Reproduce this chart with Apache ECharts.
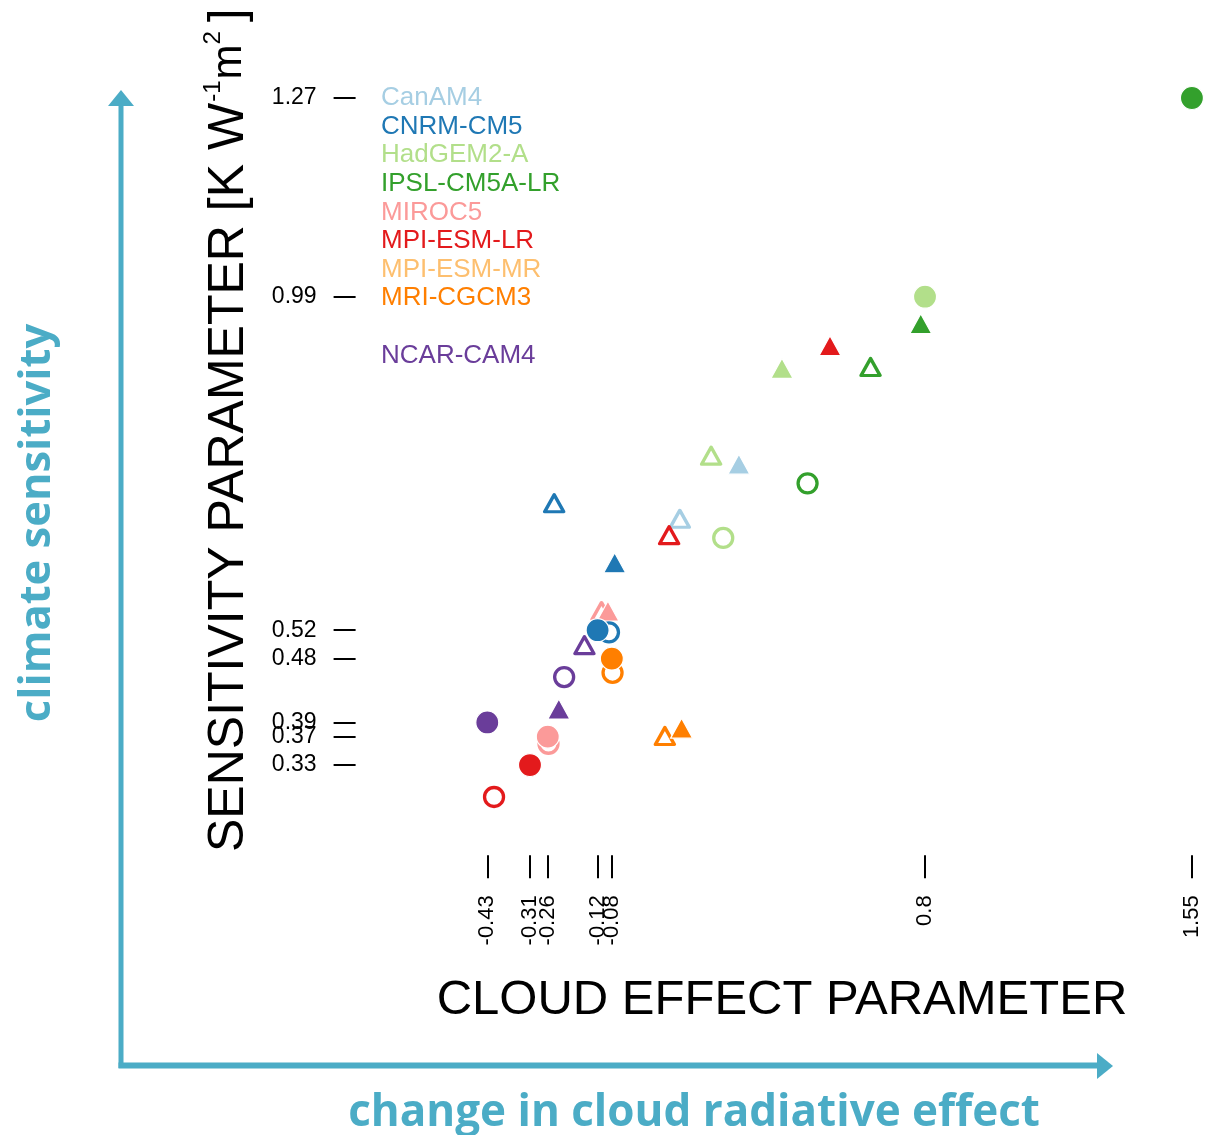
<!DOCTYPE html>
<html>
<head>
<meta charset="utf-8">
<script src="https://cdn.jsdelivr.net/npm/echarts@6/dist/echarts.min.js"></script>
<style>
  html, body { margin: 0; padding: 0; background: #fff; }
  #chart { width: 1206px; height: 1135px; }
</style>
</head>
<body>
<div id="chart"></div>
<script>
const models = ['CanAM4', 'CNRM-CM5', 'HadGEM2-A', 'IPSL-CM5A-LR', 'MIROC5', 'MPI-ESM-LR', 'MPI-ESM-MR', 'MRI-CGCM3', 'NCAR-CAM4'];
const modelColors = ['#a6cee3', '#1f78b4', '#b2df8a', '#33a02c', '#fb9a99', '#e31a1c', '#fdbf6f', '#ff7f00', '#6a3d9a'];

// [model, cloud effect parameter, sensitivity parameter]
const filledCircles = [
  ['CNRM-CM5', -0.12, 0.52],
  ['HadGEM2-A', 0.8, 0.99],
  ['IPSL-CM5A-LR', 1.55, 1.27],
  ['MIROC5', -0.26, 0.37],
  ['MPI-ESM-LR', -0.31, 0.33],
  ['MRI-CGCM3', -0.08, 0.48],
  ['NCAR-CAM4', -0.43, 0.39]
];
const openCircles = [
  ['CNRM-CM5', -0.088, 0.517],
  ['HadGEM2-A', 0.233, 0.650],
  ['IPSL-CM5A-LR', 0.470, 0.727],
  ['MIROC5', -0.258, 0.360],
  ['MPI-ESM-LR', -0.411, 0.285],
  ['MRI-CGCM3', -0.078, 0.460],
  ['NCAR-CAM4', -0.214, 0.454]
];
const filledTriangles = [
  ['CanAM4', 0.277, 0.754],
  ['CNRM-CM5', -0.072, 0.615],
  ['HadGEM2-A', 0.398, 0.889],
  ['IPSL-CM5A-LR', 0.788, 0.952],
  ['MIROC5', -0.091, 0.547],
  ['MPI-ESM-LR', 0.533, 0.921],
  ['MRI-CGCM3', 0.116, 0.382],
  ['NCAR-CAM4', -0.229, 0.409]
];
const openTriangles = [
  ['CanAM4', 0.111, 0.677],
  ['CNRM-CM5', -0.242, 0.699],
  ['HadGEM2-A', 0.199, 0.766],
  ['IPSL-CM5A-LR', 0.647, 0.891],
  ['MIROC5', -0.109, 0.547],
  ['MPI-ESM-LR', 0.081, 0.654],
  ['MRI-CGCM3', 0.069, 0.371],
  ['NCAR-CAM4', -0.157, 0.499]
];
const xTicks = [-0.43, -0.31, -0.26, -0.12, -0.08, 0.8, 1.55];
const yTicks = [1.27, 0.99, 0.52, 0.48, 0.39, 0.37, 0.33];

const TEAL = '#4bacc6';
const FONT = '"Liberation Sans", Arial, Helvetica, sans-serif';
const BOLD_FAMILY = '"Open Sans", Lato, sans-serif';

function colorOf(name) {
  return modelColors[models.indexOf(name)];
}

function markerSeries(rows, symbol, size, filled) {
  return {
    type: 'scatter',
    symbol: symbol,
    symbolSize: size,
    emphasis: { disabled: true },
    silent: true,
    data: rows.map(r => ({
      name: r[0],
      value: [r[1], r[2]],
      itemStyle: filled
        ? { color: colorOf(r[0]), opacity: 1, borderColor: '#fff', borderWidth: 1.2 }
        : { color: 'rgba(255,255,255,0)', opacity: 1, borderColor: colorOf(r[0]), borderWidth: 3.3, borderJoin: 'round' }
    }))
  };
}

let measureCtx = document.createElement('canvas').getContext('2d');
function textWidth(str, size) {
  measureCtx.font = size + 'px ' + FONT;
  return measureCtx.measureText(str).width;
}

// y axis title with superscripts, laid out along the rotated baseline
let yMain = 'SENSITIVITY PARAMETER [K W';
let yBig = 50, yUnit = 42, ySup = 24, supShift = -16;
let p1 = textWidth(yMain, yBig) + 1;
let p2 = p1 + textWidth('-1', ySup) + 1;
let p3 = p2 + textWidth('m', yUnit);
let p4 = p3 + textWidth('2', ySup) + 9;
let yTitleParts = [
  { text: yMain, x: 0, y: 0, size: yBig },
  { text: '-1', x: p1, y: supShift, size: ySup },
  { text: 'm', x: p2, y: 0, size: yUnit },
  { text: '2', x: p3, y: supShift, size: ySup },
  { text: ']', x: p4, y: 0, size: yBig }
];

let legendTexts = models.map((m, i) => ({
  type: 'text',
  x: 381,
  y: 98 + i * 28.6 + (i >= 8 ? 29 : 0),
  style: {
    text: m,
    fill: modelColors[i],
    font: '26px ' + FONT,
    verticalAlign: 'middle'
  }
}));

let chart = echarts.init(document.getElementById('chart'), null, { renderer: 'canvas' });
let option = {
  animation: false,
  backgroundColor: '#fff',
  grid: {
    left: 355.6,
    right: 3.4,
    top: 5.75,
    bottom: 277.7,
    containLabel: false,
    outerBoundsMode: 'none'
  },
  xAxis: {
    type: 'value',
    min: -0.8,
    max: 1.58,
    offset: -2,
    axisLine: { show: false, onZero: false },
    splitLine: { show: false },
    axisTick: {
      show: true,
      customValues: xTicks,
      length: 23,
      lineStyle: { color: '#000', width: 2 }
    },
    axisLabel: {
      customValues: xTicks,
      rotate: 90,
      margin: 40,
      fontSize: 22,
      color: '#000',
      fontFamily: FONT,
      formatter: v => String(v)
    }
  },
  yAxis: {
    type: 'value',
    min: 0.2,
    max: 1.4,
    axisLine: { show: false, onZero: false },
    splitLine: { show: false },
    axisTick: {
      show: true,
      customValues: yTicks,
      length: 22,
      lineStyle: { color: '#000', width: 2 }
    },
    axisLabel: {
      customValues: yTicks,
      margin: 39,
      fontSize: 23,
      color: '#000',
      fontFamily: FONT,
      formatter: v => String(v)
    }
  },
  series: [
    markerSeries(openTriangles, 'triangle', [19, 17], false),
    markerSeries(filledTriangles, 'triangle', [22, 20], true),
    markerSeries(openCircles, 'circle', 19, false),
    markerSeries(filledCircles, 'circle', 23, true)
  ],
  graphic: [
    ...legendTexts,
    {
      type: 'text',
      x: 782,
      y: 1000,
      style: {
        text: 'CLOUD EFFECT PARAMETER',
        fill: '#000',
        font: '49px ' + FONT,
        align: 'center',
        verticalAlign: 'middle'
      }
    },
    {
      type: 'group',
      x: 229,
      y: 852,
      rotation: Math.PI / 2,
      children: yTitleParts.map(p => ({
        type: 'text',
        x: p.x,
        y: p.y,
        style: {
          text: p.text,
          fill: '#000',
          font: p.size + 'px ' + FONT,
          align: 'left',
          verticalAlign: 'middle'
        }
      }))
    },
    // arrows
    {
      type: 'line',
      shape: { x1: 121, y1: 1068, x2: 121, y2: 100 },
      style: { stroke: TEAL, lineWidth: 5 }
    },
    {
      type: 'polygon',
      shape: { points: [[121, 90], [108, 106], [134, 106]] },
      style: { fill: TEAL }
    },
    {
      type: 'line',
      shape: { x1: 118.5, y1: 1065.5, x2: 1100, y2: 1065.5 },
      style: { stroke: TEAL, lineWidth: 6 }
    },
    {
      type: 'polygon',
      shape: { points: [[1113, 1066], [1097, 1053], [1097, 1079]] },
      style: { fill: TEAL }
    },
    {
      type: 'text',
      x: 38,
      y: 523,
      rotation: Math.PI / 2,
      style: {
        text: 'climate sensitivity',
        fill: TEAL,
        font: 'bold 43.5px ' + BOLD_FAMILY,
        align: 'center',
        verticalAlign: 'middle'
      }
    },
    {
      type: 'text',
      x: 694,
      y: 1113,
      style: {
        text: 'change in cloud radiative effect',
        fill: TEAL,
        font: 'bold 44px ' + BOLD_FAMILY,
        align: 'center',
        verticalAlign: 'middle'
      }
    }
  ]
};
chart.setOption(option);
</script>
</body>
</html>
